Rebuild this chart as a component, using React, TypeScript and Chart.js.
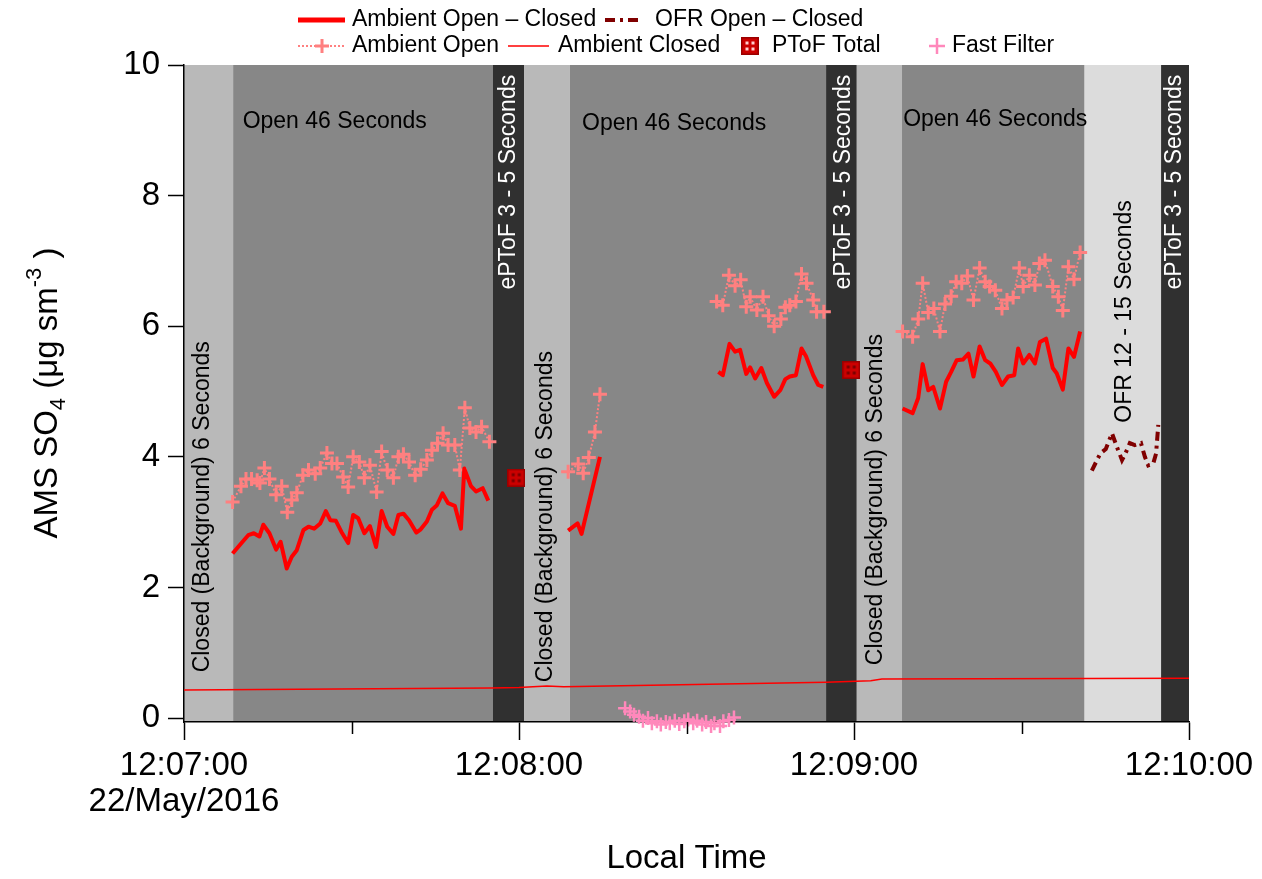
import React, { useEffect, useRef } from 'react';
import { Chart, registerables } from 'chart.js';

Chart.register(...registerables);

// ---------- data (x = seconds after 12:07:00) ----------
const xTickLabels = ['12:07:00', '12:08:00', '12:09:00', '12:10:00'];
const dateLabel = '22/May/2016';
const minorTicks = [30, 90, 150];

const ambOpenT = [
  8.7, 10.2, 11.1, 12.1, 13.1, 13.6, 14.4, 15.3, 16.5, 17.5, 18.5, 19.3, 20.2, 21.3, 22.3, 23.5, 24.4, 25.6, 26.5, 27.4,
  28.5, 29.4, 30.3, 31.4, 32.3, 33.3, 34.5, 35.4, 36.4, 37.5, 38.4, 39.3, 40.3, 41.4, 42.4, 43.5, 44.4, 45.4, 46.4, 47.3,
  48.5, 49.4, 50.3, 51.2, 52.3, 53.3, 54.7,
  60,
  68.8, 70.6, 71.5, 72.5, 73.6, 74.5,
  85,
  95.4, 96.5, 97.6, 98.7, 99.7, 100.7, 101.4, 102.6, 103.7, 104.7, 105.7, 106.9, 107.7, 108.5, 109.6, 110.6, 111.5, 112.7,
  113.3, 114.6,
  120,
  128.7, 130.5, 131.5, 132.3, 133.3, 134.3, 135.4, 136.3, 137.4, 138.3, 139.3, 140.3, 141.4, 142.5, 143.5, 144.3, 145.3,
  146.5, 147.4, 148.5, 149.6, 150.3, 151.4, 152.4, 153.2, 154.2, 155.6, 156.6, 157.4, 158.4, 159.4, 160.5,
];
const ambOpenV = [
  3.31, 3.55, 3.66, 3.66, 3.64, 3.6, 3.83, 3.66, 3.42, 3.55, 3.15, 3.34, 3.45, 3.72, 3.8, 3.74, 3.83, 4.06, 3.9, 3.9,
  3.69, 3.54, 4.0, 3.92, 3.68, 3.87, 3.46, 4.08, 3.8, 3.68, 4.0, 4.04, 3.92, 3.72, 3.81, 3.95, 4.1, 4.21, 4.36, 4.18,
  4.18, 3.8, 4.75, 4.44, 4.38, 4.46, 4.23,
  null,
  3.77, 3.89, 3.75, 3.99, 4.38, 4.96,
  null,
  6.38, 6.32, 6.78, 6.62, 6.71, 6.3, 6.45, 6.25, 6.45, 6.16, 6.0, 6.11, 6.29, 6.32, 6.38, 6.8, 6.66, 6.4, 6.22, 6.22,
  null,
  5.92, 5.84, 6.11, 6.66, 6.21, 6.27, 5.92, 6.34, 6.46, 6.68, 6.66, 6.77, 6.4, 6.89, 6.68, 6.61, 6.55, 6.27, 6.4, 6.44,
  6.89, 6.61, 6.78, 6.63, 6.96, 7.01, 6.61, 6.45, 6.24, 6.91, 6.72, 7.13,
];

const diffT = [
  8.7, 10.3, 11.5, 12.5, 13.5, 14.2, 15.3, 16.5, 17.3, 18.4, 19.3, 20.2, 21.4, 22.3, 23.3, 24.4, 25.4, 26.2, 27.2, 28.2,
  29.4, 30.3, 31.2, 32.3, 33.3, 34.4, 35.4, 36.4, 37.5, 38.4, 39.3, 40.3, 41.6, 42.4, 43.5, 44.4, 45.3, 46.3, 47.3, 48.5,
  49.6, 50.2, 51.4, 52.3, 53.5, 54.5,
  60,
  68.8, 70.5, 71.2, 74.5,
  85,
  95.7, 96.5, 97.7, 98.7, 99.6, 100.7, 101.4, 102.3, 103.4, 104.4, 105.7, 106.8, 107.7, 108.5, 109.6, 110.6, 111.4, 112.7,
  113.6, 114.5,
  120,
  128.7, 130.5, 131.5, 132.3, 133.3, 134.2, 135.4, 136.5, 137.4, 138.4, 139.5, 140.5, 141.4, 142.5, 143.5, 144.4, 145.4,
  146.5, 147.6, 148.7, 149.4, 150.3, 151.4, 152.4, 153.3, 154.4, 155.6, 156.3, 157.4, 158.4, 159.4, 160.5,
];
const diffV = [
  2.52, 2.68, 2.8, 2.83, 2.78, 2.96, 2.83, 2.58, 2.7, 2.29, 2.47, 2.57, 2.88, 2.93, 2.9, 2.98, 3.17, 3.03, 3.02, 2.85,
  2.68, 3.11, 3.06, 2.83, 2.94, 2.62, 3.17, 2.93, 2.82, 3.11, 3.13, 3.03, 2.84, 2.89, 3.01, 3.19, 3.26, 3.44, 3.29, 3.25,
  2.9, 3.82, 3.55, 3.47, 3.52, 3.33,
  null,
  2.87, 2.98, 2.82, 4.0,
  null,
  5.3, 5.25, 5.73, 5.61, 5.64, 5.27, 5.37, 5.2, 5.36, 5.13, 4.92, 5.02, 5.19, 5.23, 5.25, 5.66, 5.54, 5.25, 5.1, 5.07,
  null,
  4.74, 4.67, 4.9, 5.42, 5.02, 5.07, 4.74, 5.15, 5.3, 5.48, 5.49, 5.58, 5.23, 5.69, 5.48, 5.43, 5.3, 5.1, 5.23, 5.25,
  5.66, 5.43, 5.56, 5.43, 5.76, 5.81, 5.36, 5.28, 5.03, 5.66, 5.53, 5.92,
];

const ofrT = [162.6, 164.1, 165.1, 166.2, 167.1, 168.0, 168.5, 169.4, 170.3, 171.4, 172.1, 172.7, 173.6, 174.1, 174.5];
const ofrV = [3.79, 4.05, 4.12, 4.36, 4.15, 3.95, 4.03, 4.21, 4.18, 4.21, 4.0, 3.87, 3.9, 4.05, 4.49];

const ambClosedT = [0, 55, 60, 65, 68, 115, 123, 125, 180];
const ambClosedV = [0.43, 0.46, 0.47, 0.49, 0.48, 0.55, 0.57, 0.6, 0.61];

const ptofT = [59.5, 119.5];
const ptofV = [3.68, 5.33];

const fastT = [
  79.0, 79.9, 80.6, 81.5, 82.2, 83.1, 83.8, 84.7, 85.4, 86.3, 87.0, 87.9, 88.7, 89.6, 90.3, 91.2, 91.9, 92.8, 93.5, 94.4,
  95.0, 96.0, 96.6, 97.6, 98.5,
];
const fastV = [
  0.15, 0.1, 0.05, 0.02, -0.04, 0.0, -0.08, -0.05, -0.1, -0.06, -0.08, -0.04, -0.09, -0.05, -0.02, -0.08, -0.04, -0.1,
  -0.06, -0.12, -0.08, -0.12, -0.05, -0.03, 0.01,
];

// instrument states (background shading)
const bandStart = [0, 8.8, 55.3, 60.9, 69.1, 115.0, 120.5, 128.6, 161.3, 175.0];
const bandEnd = [8.8, 55.3, 60.9, 69.1, 115.0, 120.5, 128.6, 161.3, 175.0, 180];
const bandKind = ['closed', 'open', 'eptof', 'closed', 'open', 'eptof', 'closed', 'open', 'ofr', 'eptof'];

// ---------- styling / annotation layout ----------
const FONT = '"Liberation Sans", Arial, Helvetica, sans-serif';
const bandColors: Record<string, string> = {
  closed: '#b9b9b9',
  open: '#878787',
  eptof: '#303030',
  ofr: '#dcdcdc',
};

type Ann = { text: string; t: number; v: number; rot: boolean; color: string; align: CanvasTextAlign };
const annotations: Ann[] = [
  { text: 'Open 46 Seconds', t: 10.5, v: 9.14, rot: false, color: '#000', align: 'left' },
  { text: 'Open 46 Seconds', t: 71.3, v: 9.1, rot: false, color: '#000', align: 'left' },
  { text: 'Open 46 Seconds', t: 128.8, v: 9.17, rot: false, color: '#000', align: 'left' },
  { text: 'Closed (Background) 6 Seconds', t: 3.4, v: 0.7, rot: true, color: '#000', align: 'left' },
  { text: 'Closed (Background) 6 Seconds', t: 64.7, v: 0.55, rot: true, color: '#000', align: 'left' },
  { text: 'Closed (Background) 6 Seconds', t: 123.9, v: 0.81, rot: true, color: '#000', align: 'left' },
  { text: 'ePToF 3 - 5 Seconds', t: 58.2, v: 9.85, rot: true, color: '#fff', align: 'right' },
  { text: 'ePToF 3 - 5 Seconds', t: 118.2, v: 9.85, rot: true, color: '#fff', align: 'right' },
  { text: 'ePToF 3 - 5 Seconds', t: 177.5, v: 9.85, rot: true, color: '#fff', align: 'right' },
  { text: 'OFR 12 - 15 Seconds', t: 168.4, v: 7.93, rot: true, color: '#000', align: 'right' },
];

const xy = (ts: number[], vs: (number | null)[]) => ts.map((t, i) => ({ x: t, y: vs[i] }));

function makeSquare(dot: string) {
  const c = document.createElement('canvas');
  c.width = 18;
  c.height = 18;
  const g = c.getContext('2d')!;
  g.fillStyle = '#cc0000';
  g.fillRect(0, 0, 18, 18);
  g.strokeStyle = '#9a0000';
  g.lineWidth = 1.5;
  g.strokeRect(0.75, 0.75, 16.5, 16.5);
  g.fillStyle = dot;
  [[6, 6], [12, 6], [6, 12], [12, 12]].forEach(([x, y]) => g.fillRect(x - 1.5, y - 1.5, 3, 3));
  return c;
}

export default function App() {
  const ref = useRef<HTMLCanvasElement>(null);

  useEffect(() => {
    document.body.style.margin = '0';
    const canvas = ref.current!;
    const sqChart = makeSquare('#7a0000');
    const sqLegend = makeSquare('#ffd0d0');

    const bandPlugin = {
      id: 'bands',
      beforeDraw(chart: any) {
        const { ctx, chartArea, scales } = chart;
        const xs = scales.x;
        const ys = scales.y;
        ctx.save();
        bandStart.forEach((s, i) => {
          const x0 = xs.getPixelForValue(s);
          const x1 = xs.getPixelForValue(bandEnd[i]);
          ctx.fillStyle = bandColors[bandKind[i]];
          ctx.fillRect(x0, chartArea.top, x1 - x0, chartArea.bottom - chartArea.top);
        });
        annotations.forEach((a) => {
          const px = xs.getPixelForValue(a.t);
          const py = ys.getPixelForValue(a.v);
          ctx.fillStyle = a.color;
          ctx.textBaseline = 'middle';
          ctx.textAlign = a.align;
          ctx.font = `23px ${FONT}`;
          if (a.rot) {
            ctx.save();
            ctx.translate(px, py);
            ctx.rotate(-Math.PI / 2);
            ctx.fillText(a.text, 0, 0);
            ctx.restore();
          } else {
            ctx.fillText(a.text, px, py);
          }
        });
        ctx.restore();
      },
      afterDraw(chart: any) {
        const { ctx, chartArea, scales } = chart;
        const xs = scales.x;
        ctx.save();
        // minor x ticks
        ctx.strokeStyle = '#000';
        ctx.lineWidth = 1.5;
        minorTicks.forEach((t) => {
          const px = Math.round(xs.getPixelForValue(t)) + 0.5;
          ctx.beginPath();
          ctx.moveTo(px, chartArea.bottom);
          ctx.lineTo(px, chartArea.bottom + 12);
          ctx.stroke();
        });

        // y-axis title with sub/superscript
        const pieces = [
          { t: 'AMS SO', s: 33, dy: 0 },
          { t: '4', s: 22, dy: 8 },
          { t: ' (μg sm', s: 33, dy: 0 },
          { t: '-3', s: 22, dy: -16 },
          { t: ' )', s: 33, dy: 0 },
        ];
        let total = 0;
        pieces.forEach((p) => {
          ctx.font = `${p.s}px ${FONT}`;
          total += ctx.measureText(p.t).width;
        });
        ctx.save();
        ctx.translate(45, 393);
        ctx.rotate(-Math.PI / 2);
        ctx.fillStyle = '#000';
        ctx.textAlign = 'left';
        ctx.textBaseline = 'alphabetic';
        let cx = -total / 2;
        pieces.forEach((p) => {
          ctx.font = `${p.s}px ${FONT}`;
          ctx.fillText(p.t, cx, 12 + p.dy);
          cx += ctx.measureText(p.t).width;
        });
        ctx.restore();

        // legend
        ctx.font = `23px ${FONT}`;
        ctx.textBaseline = 'middle';
        ctx.textAlign = 'left';
        ctx.fillStyle = '#000';
        const r1 = 20;
        const r2 = 46;
        // Ambient Open - Closed
        ctx.strokeStyle = '#ff0000';
        ctx.lineWidth = 5;
        ctx.beginPath();
        ctx.moveTo(298, r1);
        ctx.lineTo(345, r1);
        ctx.stroke();
        ctx.fillText('Ambient Open – Closed', 352, r1);
        // OFR
        ctx.strokeStyle = '#800000';
        ctx.lineWidth = 4;
        ctx.setLineDash([10, 5, 3, 5]);
        ctx.beginPath();
        ctx.moveTo(605, r1);
        ctx.lineTo(643, r1);
        ctx.stroke();
        ctx.setLineDash([]);
        ctx.fillText('OFR Open – Closed', 655, r1);
        // Ambient Open
        ctx.strokeStyle = '#ff8080';
        ctx.lineWidth = 2;
        ctx.setLineDash([2, 2]);
        ctx.beginPath();
        ctx.moveTo(298, r2);
        ctx.lineTo(345, r2);
        ctx.stroke();
        ctx.setLineDash([]);
        ctx.lineWidth = 3;
        ctx.beginPath();
        ctx.moveTo(315, r2);
        ctx.lineTo(329, r2);
        ctx.moveTo(322, r2 - 7);
        ctx.lineTo(322, r2 + 7);
        ctx.stroke();
        ctx.fillText('Ambient Open', 352, r2);
        // Ambient Closed
        ctx.strokeStyle = '#ff0000';
        ctx.lineWidth = 1.5;
        ctx.beginPath();
        ctx.moveTo(508, r2);
        ctx.lineTo(549, r2);
        ctx.stroke();
        ctx.fillText('Ambient Closed', 558, r2);
        // PToF
        ctx.drawImage(sqLegend, 741, r2 - 9);
        ctx.fillText('PToF Total', 772, r2);
        // Fast filter
        ctx.strokeStyle = '#ff88bb';
        ctx.lineWidth = 2.5;
        ctx.beginPath();
        ctx.moveTo(929, r2);
        ctx.lineTo(945, r2);
        ctx.moveTo(937, r2 - 8);
        ctx.lineTo(937, r2 + 8);
        ctx.stroke();
        ctx.fillText('Fast Filter', 952, r2);
        ctx.restore();
      },
    };

    Chart.defaults.font.family = FONT;
    Chart.defaults.color = '#000';

    const chart = new Chart(canvas, {
      type: 'line',
      data: {
        datasets: [
          {
            label: 'PToF Total',
            data: xy(ptofT, ptofV),
            showLine: false,
            pointStyle: sqChart as any,
            pointRadius: 9,
            borderColor: '#cc0000',
            backgroundColor: '#cc0000',
          },
          {
            label: 'Ambient Open – Closed',
            data: xy(diffT, diffV),
            borderColor: '#ff0000',
            borderWidth: 4,
            borderJoinStyle: 'round',
            pointRadius: 0,
            spanGaps: false,
          },
          {
            label: 'OFR Open – Closed',
            data: xy(ofrT, ofrV),
            borderColor: '#800000',
            borderWidth: 4,
            borderDash: [9, 5, 3, 5],
            pointRadius: 0,
          },
          {
            label: 'Ambient Open',
            data: xy(ambOpenT, ambOpenV),
            borderColor: '#ff8080',
            borderWidth: 2,
            borderDash: [2, 2],
            pointStyle: 'cross',
            pointRadius: 7,
            pointBorderWidth: 3,
            pointBorderColor: '#ff8080',
            spanGaps: false,
          },
          {
            label: 'Fast Filter',
            data: xy(fastT, fastV),
            showLine: false,
            pointStyle: 'cross',
            pointRadius: 7,
            pointBorderWidth: 2.5,
            pointBorderColor: '#ff88bb',
            borderColor: '#ff88bb',
            clip: false as any,
          },
          {
            label: 'Ambient Closed',
            data: xy(ambClosedT, ambClosedV),
            borderColor: '#ff0000',
            borderWidth: 1.5,
            pointRadius: 0,
          },
        ],
      },
      options: {
        animation: false,
        responsive: false,
        layout: { padding: { top: 65, right: 73, left: 0, bottom: 0 } },
        plugins: { legend: { display: false }, tooltip: { enabled: false } },
        scales: {
          x: {
            type: 'linear',
            min: 0,
            max: 180,
            afterFit: (s: any) => {
              s.height = 157;
            },
            grid: {
              display: true,
              drawOnChartArea: false,
              drawTicks: true,
              tickLength: 18,
              tickWidth: 1.5,
              tickColor: '#000',
            },
            border: { display: true, color: '#000', width: 1.5 },
            ticks: {
              stepSize: 60,
              autoSkip: false,
              maxRotation: 0,
              padding: 8,
              color: '#000',
              font: { size: 33, lineHeight: 1.08 },
              callback: (v: any) => {
                const i = Math.round(Number(v) / 60);
                return i === 0 ? [xTickLabels[0], dateLabel] : xTickLabels[i];
              },
            },
            title: {
              display: true,
              text: 'Local Time',
              color: '#000',
              font: { size: 33 },
              padding: { top: 0, bottom: 0 },
            },
          },
          y: {
            type: 'linear',
            min: -0.06,
            max: 10,
            afterFit: (s: any) => {
              s.width = 184;
            },
            grid: {
              display: true,
              drawOnChartArea: false,
              drawTicks: true,
              tickLength: 16,
              tickWidth: 1.5,
              tickColor: '#000',
            },
            border: { display: true, color: '#000', width: 1.5 },
            ticks: {
              stepSize: 2,
              includeBounds: false,
              padding: 8,
              color: '#000',
              font: { size: 33 },
            },
          },
        },
      },
      plugins: [bandPlugin],
    });

    return () => chart.destroy();
  }, []);

  return (
    <div style={{ position: 'fixed', left: 0, top: 0, width: 1262, height: 879 }}>
      <canvas ref={ref} width={1262} height={879} style={{ display: 'block' }} />
    </div>
  );
}
